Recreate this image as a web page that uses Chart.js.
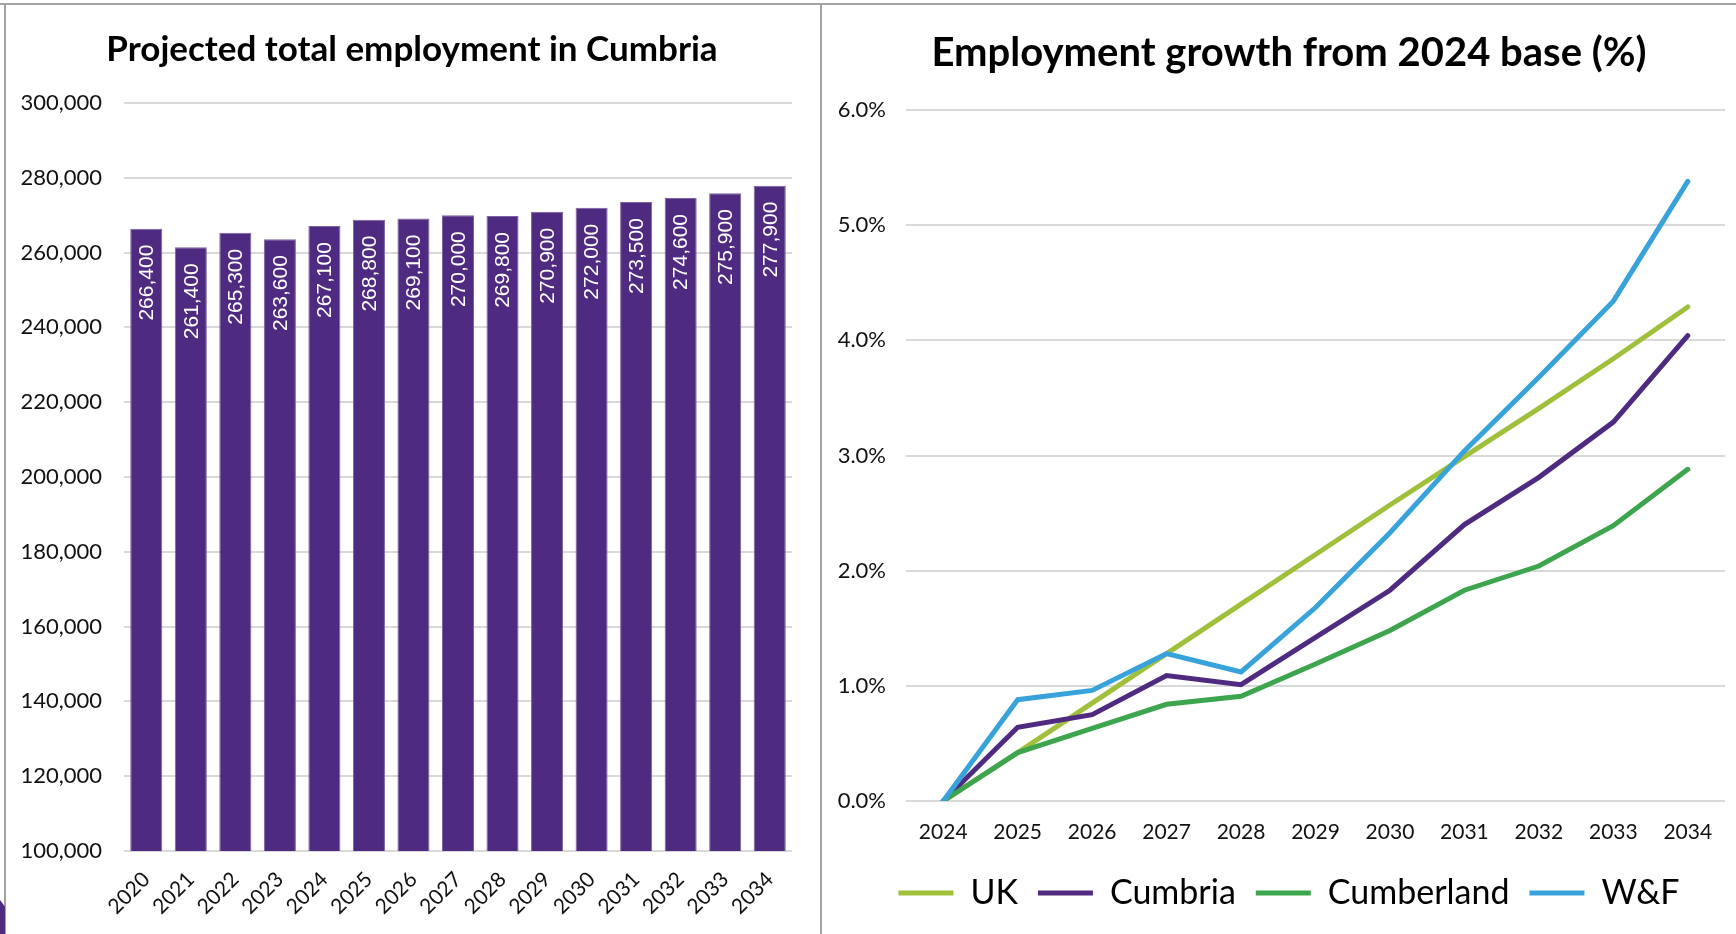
<!DOCTYPE html>
<html>
<head>
<meta charset="utf-8">
<script src="https://cdn.jsdelivr.net/npm/chart.js@4.4.1/dist/chart.umd.min.js"></script>
<style>
  html, body { margin: 0; padding: 0; background: #fff; overflow: hidden; width: 1736px; height: 934px; position: relative; }
  canvas { position: absolute; top: 0; }
  #employmentChart { left: 0; }
  #growthChart { left: 822px; }
  .rule { position: absolute; background: #a3a3a3; z-index: 2; }
  .tab { position: absolute; left: 0; top: 900px; width: 5px; height: 34px; background: #4e2a80;
         clip-path: polygon(0 0, 100% 20%, 100% 100%, 0 100%); z-index: 3; }
</style>
</head>
<body>
<canvas id="employmentChart" width="824" height="934" style="width:824px;height:934px"></canvas>
<canvas id="growthChart" width="934" height="934" style="width:934px;height:934px"></canvas>
<div class="rule" style="left:0;top:3px;width:1736px;height:2px"></div>
<div class="rule" style="left:4px;top:3px;width:2px;height:931px"></div>
<div class="rule" style="left:820px;top:3px;width:2px;height:931px"></div>
<div class="tab"></div>
<script>
// Projected total employment in Cumbria
const years = ['2020', '2021', '2022', '2023', '2024', '2025', '2026', '2027', '2028', '2029', '2030', '2031', '2032', '2033', '2034'];
const employment = [266400, 261400, 265300, 263600, 267100, 268800, 269100, 270000, 269800, 270900, 272000, 273500, 274600, 275900, 277900];

// Employment growth from 2024 base (%)
const growthYears = ['2024', '2025', '2026', '2027', '2028', '2029', '2030', '2031', '2032', '2033', '2034'];
const ukGrowth = [0, 0.42, 0.85, 1.28, 1.71, 2.14, 2.57, 2.99, 3.41, 3.84, 4.29];
const cumbriaGrowth = [0, 0.64, 0.75, 1.09, 1.01, 1.42, 1.83, 2.40, 2.81, 3.29, 4.04];
const cumberlandGrowth = [0, 0.42, 0.63, 0.84, 0.91, 1.19, 1.48, 1.83, 2.04, 2.39, 2.88];
const wfGrowth = [0, 0.88, 0.96, 1.28, 1.12, 1.68, 2.33, 3.04, 3.68, 4.34, 5.38];

const PURPLE = '#4e2a80';
const GRID = '#d9d9d9';
const TEXT = '#111111';
const FAMILY = "Lato, 'Open Sans', sans-serif";
const LABEL_FONT = "'Liberation Sans', Arial, sans-serif";

Chart.defaults.devicePixelRatio = 1;
Chart.defaults.animation = false;
Chart.defaults.color = TEXT;

const numberFmt = v => v.toLocaleString('en-GB');

// Empty right-hand scale that keeps a margin beside the plot inside the canvas,
// so the full-width title and legend stay centred over the whole panel
const spacerScale = width => ({
  type: 'linear',
  position: 'right',
  display: true,
  grid: { display: false },
  border: { display: false },
  ticks: { display: false },
  afterFit(scale) { scale.width = width; }
});

// Writes each bar's value vertically, just inside the top of the bar
const barValueLabels = {
  id: 'barValueLabels',
  afterDatasetsDraw(chart) {
    const ctx = chart.ctx;
    const meta = chart.getDatasetMeta(0);
    const values = chart.data.datasets[0].data;
    ctx.save();
    ctx.fillStyle = '#ffffff';
    ctx.font = `21px ${LABEL_FONT}`;
    ctx.textAlign = 'right';
    ctx.textBaseline = 'middle';
    meta.data.forEach((bar, i) => {
      ctx.save();
      ctx.translate(bar.x, bar.y + 16);
      ctx.rotate(-Math.PI / 2);
      ctx.fillText(numberFmt(values[i]), 0, 1);
      ctx.restore();
    });
    ctx.restore();
  }
};

new Chart(document.getElementById('employmentChart'), {
  type: 'bar',
  data: {
    labels: years,
    datasets: [{
      data: employment,
      backgroundColor: PURPLE,
      borderColor: '#7a62a0',
      borderWidth: 1,
      categoryPercentage: 1,
      barPercentage: 0.72
    }]
  },
  options: {
    responsive: false,
    layout: { padding: 0 },
    plugins: {
      legend: { display: false },
      tooltip: { enabled: false },
      title: {
        display: true,
        text: 'Projected total employment in Cumbria',
        color: '#000',
        font: { family: FAMILY, size: 35, weight: 'bold', lineHeight: 1.2 },
        padding: { top: 29, bottom: 32 }
      }
    },
    scales: {
      x: {
        grid: { display: false },
        border: { display: false },
        ticks: {
          color: TEXT,
          font: { family: FAMILY, size: 21 },
          autoSkip: false,
          minRotation: 45,
          maxRotation: 45,
          padding: 8
        },
        afterFit(scale) { scale.height = 83; }
      },
      y: {
        min: 100000,
        max: 300000,
        border: { display: false },
        grid: { color: GRID, lineWidth: 2, drawTicks: false },
        ticks: {
          stepSize: 20000,
          color: TEXT,
          font: { family: FAMILY, size: 22 },
          padding: 22,
          callback: v => numberFmt(v)
        },
        afterFit(scale) { scale.width = 124; }
      },
      spacer: spacerScale(32)
    }
  },
  plugins: [barValueLabels]
});

const lineSet = (label, data, color, order) => ({
  label, data, order,
  borderColor: color,
  backgroundColor: color,
  borderWidth: 5,
  borderCapStyle: 'round',
  pointRadius: 0,
  tension: 0,
  fill: false
});

new Chart(document.getElementById('growthChart'), {
  type: 'line',
  data: {
    labels: growthYears,
    datasets: [
      lineSet('UK', ukGrowth, '#a0c03b', 4),
      lineSet('Cumbria', cumbriaGrowth, PURPLE, 3),
      lineSet('Cumberland', cumberlandGrowth, '#3da54e', 2),
      lineSet('W&F', wfGrowth, '#38a3db', 1)
    ]
  },
  options: {
    responsive: false,
    layout: { padding: { left: 0, right: 0, top: 0, bottom: 14 } },
    plugins: {
      tooltip: { enabled: false },
      title: {
        display: true,
        text: 'Employment growth from 2024 base (%)',
        color: '#000',
        font: { family: FAMILY, size: 40, weight: 'bold', lineHeight: 1.2 },
        padding: { top: 29, bottom: 33 }
      },
      legend: {
        position: 'bottom',
        labels: {
          color: '#000',
          font: { family: FAMILY, size: 34 },
          usePointStyle: true,
          pointStyle: 'line',
          pointStyleWidth: 55,
          boxWidth: 55,
          boxHeight: 34,
          padding: 20,
          sort: (a, b) => a.datasetIndex - b.datasetIndex
        }
      }
    },
    scales: {
      x: {
        offset: true,
        grid: { display: false },
        border: { display: false },
        ticks: { color: TEXT, font: { family: FAMILY, size: 21 }, padding: 11, maxRotation: 0, autoSkip: false },
        afterFit(scale) { scale.height = 55; }
      },
      y: {
        min: 0,
        max: 6,
        border: { display: false },
        grid: { color: GRID, lineWidth: 2, drawTicks: false },
        ticks: {
          stepSize: 1,
          color: TEXT,
          font: { family: FAMILY, size: 22 },
          padding: 20,
          callback: v => v.toFixed(1) + '%'
        },
        afterFit(scale) { scale.width = 84; }
      },
      spacer: spacerScale(31)
    }
  }
});
</script>
</body>
</html>
